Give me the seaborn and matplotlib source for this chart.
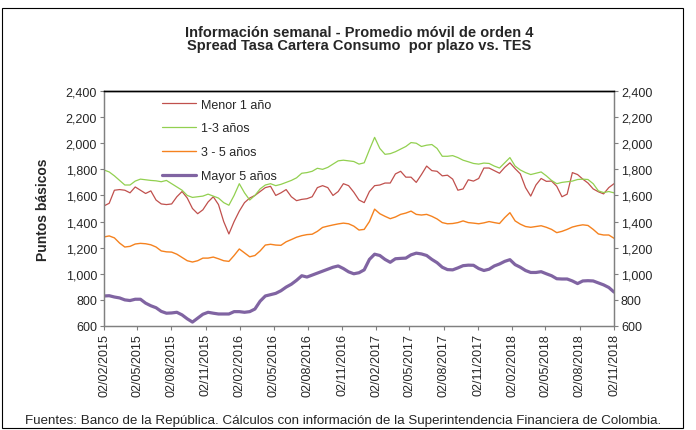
import matplotlib
matplotlib.use("Agg")
import matplotlib.pyplot as plt
import matplotlib.ticker as mticker
import matplotlib.dates as mdates
from matplotlib.patches import Rectangle
import pandas as pd
import seaborn as sns

# weekly moving-average spreads (basis points), read roughly every two weeks
START = "2015-02-02"
END = "2018-11-02"

menor_1 = [1520, 1540, 1640, 1645, 1640, 1620, 1665, 1640, 1615, 1635,
           1565, 1535, 1530, 1535, 1590, 1630, 1580, 1500, 1460, 1490,
           1550, 1590, 1530, 1400, 1305, 1400, 1480, 1545, 1580, 1600,
           1630, 1660, 1670, 1600, 1620, 1645, 1590, 1560, 1570, 1575,
           1590, 1660, 1675, 1660, 1600, 1630, 1690, 1675, 1625, 1565,
           1545, 1630, 1675, 1680, 1695, 1695, 1765, 1785, 1740, 1740,
           1700, 1760, 1825, 1790, 1785, 1750, 1755, 1725, 1640, 1650,
           1720, 1710, 1730, 1810, 1810, 1790, 1770, 1815, 1850, 1805,
           1765, 1660, 1595, 1680, 1730, 1708, 1710, 1670, 1590, 1610,
           1775, 1760, 1725, 1695, 1650, 1628, 1612, 1660, 1690]

uno_tres = [1795, 1780, 1750, 1715, 1680, 1680, 1710, 1725, 1720, 1715,
            1712, 1705, 1715, 1690, 1665, 1640, 1600, 1585, 1590, 1595,
            1610, 1595, 1580, 1545, 1525, 1600, 1690, 1620, 1565, 1600,
            1650, 1680, 1690, 1675, 1685, 1700, 1715, 1735, 1770, 1775,
            1785, 1808, 1800, 1815, 1840, 1865, 1870, 1865, 1860, 1840,
            1850, 1950, 2045, 1960, 1915, 1920, 1935, 1955, 1975, 2005,
            2000, 1975, 1985, 1990, 1960, 1900, 1900, 1905, 1890, 1870,
            1858, 1845, 1840, 1848, 1845, 1825, 1810, 1850, 1890, 1825,
            1795, 1775, 1760, 1770, 1780, 1750, 1715, 1690, 1700, 1705,
            1710, 1722, 1725, 1722, 1690, 1635, 1622, 1630, 1620]

tres_cinco = [1282, 1290, 1275, 1235, 1205, 1210, 1228, 1233, 1230, 1222,
              1205, 1175, 1168, 1166, 1150, 1125, 1100, 1090, 1100, 1120,
              1120, 1128, 1115, 1100, 1095, 1140, 1190, 1160, 1130, 1140,
              1175, 1220, 1226, 1220, 1218, 1245, 1262, 1280, 1292, 1300,
              1303, 1325, 1355, 1365, 1374, 1382, 1388, 1383, 1365, 1335,
              1340, 1400, 1495, 1460, 1440, 1422, 1435, 1455, 1465, 1480,
              1455, 1450, 1455, 1440, 1420, 1392, 1383, 1385, 1392, 1405,
              1392, 1388, 1383, 1390, 1400, 1392, 1385, 1430, 1468, 1405,
              1380, 1362, 1356, 1362, 1368, 1356, 1340, 1315, 1325, 1340,
              1358, 1368, 1375, 1370, 1340, 1305, 1297, 1297, 1272]

mayor_5 = [830, 832, 822, 815, 800, 795, 805, 805, 775, 755,
           740, 712, 698, 700, 705, 685, 655, 630, 660, 690,
           705, 698, 692, 692, 692, 710, 710, 705, 710, 730,
           790, 830, 840, 850, 870, 898, 920, 950, 985, 975,
           990, 1005, 1020, 1035, 1050, 1060, 1040, 1015, 1000, 1008,
           1030, 1110, 1150, 1140, 1110, 1088, 1115, 1118, 1120, 1145,
           1158, 1152, 1140, 1110, 1085, 1050, 1032, 1030, 1045, 1062,
           1066, 1065, 1040, 1025, 1035, 1060, 1075, 1095, 1108, 1070,
           1050, 1025, 1010, 1010, 1016, 1000, 985, 962, 960, 960,
           945, 925, 945, 947, 945, 930, 915, 895, 860]

SERIES = ["Menor 1 año", "1-3 años", "3 - 5 años", "Mayor 5 años"]
COLORS = {"Menor 1 año": "#C0504D", "1-3 años": "#92D050",
          "3 - 5 años": "#F5821F", "Mayor 5 años": "#8064A2"}
WIDTHS = {"Menor 1 año": 0.9, "1-3 años": 0.9,
          "3 - 5 años": 1.0, "Mayor 5 años": 2.3}

fechas = pd.date_range(START, END, periods=len(menor_1))
df = pd.DataFrame({"fecha": fechas,
                   "Menor 1 año": menor_1,
                   "1-3 años": uno_tres,
                   "3 - 5 años": tres_cinco,
                   "Mayor 5 años": mayor_5})
long_df = df.melt(id_vars="fecha", var_name="serie", value_name="pb")

sns.set_style("white")
plt.rcParams["font.family"] = ["Liberation Sans", "DejaVu Sans"]

fig = plt.figure(figsize=(6.96, 4.31), dpi=100)
ax = fig.add_axes([104 / 696, 1 - 327 / 431, 510 / 696, 235 / 431])

for s in SERIES:
    sns.lineplot(data=long_df[long_df["serie"] == s], x="fecha", y="pb",
                 color=COLORS[s], linewidth=WIDTHS[s], label=s, ax=ax)

ax.set_ylim(600, 2400)
ax.set_xlim(pd.Timestamp(START), pd.Timestamp(END))
ax.yaxis.set_major_locator(mticker.MultipleLocator(200))
ax.yaxis.set_major_formatter(mticker.StrMethodFormatter("{x:,.0f}"))
xticks = pd.date_range(START, END, freq=pd.DateOffset(months=3))
ax.set_xticks(xticks)
ax.xaxis.set_major_formatter(mdates.DateFormatter("%d/%m/%Y"))
ax.tick_params(axis="x", rotation=90, labelsize=9, length=3, width=0.8,
               color="#808080", bottom=True, pad=2)
ax.tick_params(axis="y", labelsize=9, length=3, width=0.8,
               color="#808080", left=True, pad=2)
ax.set_xlabel("")
ax.set_ylabel("Puntos básicos", fontsize=10, fontweight="bold", labelpad=11)

ax2 = ax.twinx()
ax2.set_ylim(600, 2400)
ax2.yaxis.set_major_locator(mticker.MultipleLocator(200))
ax2.yaxis.set_major_formatter(mticker.StrMethodFormatter("{x:,.0f}"))
ax2.tick_params(axis="y", labelsize=9, length=3, width=0.8,
                color="#808080", right=True, pad=2)

for a in (ax, ax2):
    for side in ("left", "right", "bottom"):
        a.spines[side].set_color("#808080")
        a.spines[side].set_linewidth(0.9)
    a.spines["top"].set_color("black")
    a.spines["top"].set_linewidth(1.0)

ax.legend(loc="upper left", bbox_to_anchor=(0.114, 0.968), frameon=False,
          fontsize=9, borderpad=0, borderaxespad=0, labelspacing=0.95,
          handlelength=2.7, handletextpad=0.4)

fig.text(359 / 696, 1 - 33 / 431, "Información semanal - Promedio móvil de orden 4",
         ha="center", va="center", fontsize=10.5, fontweight="bold")
fig.text(359 / 696, 1 - 46 / 431, "Spread Tasa Cartera Consumo  por plazo vs. TES",
         ha="center", va="center", fontsize=10.5, fontweight="bold")
fig.text(25 / 696, 1 - 421 / 431,
         "Fuentes: Banco de la República. Cálculos con información de la "
         "Superintendencia Financiera de Colombia.",
         ha="left", va="center", fontsize=9.6)

fig.patches.append(Rectangle((2 / 696, 2 / 431), 681 / 696, 420 / 431,
                             transform=fig.transFigure, fill=False,
                             edgecolor="black", linewidth=0.8))

fig.savefig("out.png", dpi=100)
